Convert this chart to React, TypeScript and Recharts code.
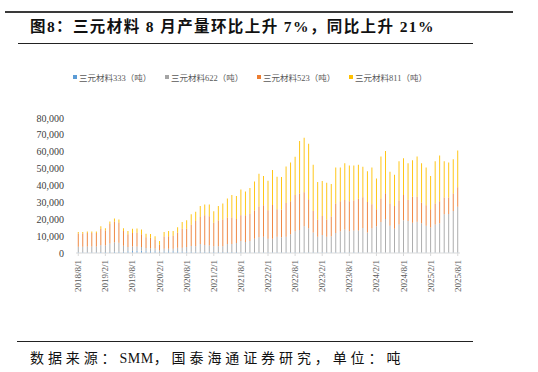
import React from 'react';
import { BarChart, Bar, XAxis, YAxis, Legend } from 'recharts';

const months = [
  '2018/8/1', '2018/9/1', '2018/10/1', '2018/11/1', '2018/12/1',
  '2019/1/1', '2019/2/1', '2019/3/1', '2019/4/1', '2019/5/1', '2019/6/1', '2019/7/1', '2019/8/1', '2019/9/1', '2019/10/1', '2019/11/1', '2019/12/1',
  '2020/1/1', '2020/2/1', '2020/3/1', '2020/4/1', '2020/5/1', '2020/6/1', '2020/7/1', '2020/8/1', '2020/9/1', '2020/10/1', '2020/11/1', '2020/12/1',
  '2021/1/1', '2021/2/1', '2021/3/1', '2021/4/1', '2021/5/1', '2021/6/1', '2021/7/1', '2021/8/1', '2021/9/1', '2021/10/1', '2021/11/1', '2021/12/1',
  '2022/1/1', '2022/2/1', '2022/3/1', '2022/4/1', '2022/5/1', '2022/6/1', '2022/7/1', '2022/8/1', '2022/9/1', '2022/10/1', '2022/11/1', '2022/12/1',
  '2023/1/1', '2023/2/1', '2023/3/1', '2023/4/1', '2023/5/1', '2023/6/1', '2023/7/1', '2023/8/1', '2023/9/1', '2023/10/1', '2023/11/1', '2023/12/1',
  '2024/1/1', '2024/2/1', '2024/3/1', '2024/4/1', '2024/5/1', '2024/6/1', '2024/7/1', '2024/8/1', '2024/9/1', '2024/10/1', '2024/11/1', '2024/12/1',
  '2025/1/1', '2025/2/1', '2025/3/1', '2025/4/1', '2025/5/1', '2025/6/1', '2025/7/1', '2025/8/1',
];

// 三元材料333（吨）
const ncm333 = [
  500, 500, 500, 500, 500,
  600, 600, 700, 800, 800, 800, 1000, 1200, 1300, 1300, 1100, 1000,
  1000, 700, 900, 1000, 1000, 1000, 900, 900, 800, 800, 800, 700,
  700, 600, 600, 600, 600, 600, 600, 500, 500, 500, 500, 500,
  500, 500, 400, 400, 400, 400, 400, 400, 400, 400, 400, 400,
  400, 400, 400, 400, 400, 400, 400, 400, 400, 400, 300, 300,
  300, 300, 300, 300, 300, 300, 300, 300, 300, 300, 300, 300,
  300, 300, 300, 300, 300, 300, 300, 300,
];

// 三元材料622（吨）
const ncm622 = [
  3200, 3200, 3300, 3300, 3300,
  4000, 3800, 5000, 5600, 5300, 3500, 2600, 2600, 2500, 2300, 1800, 1800,
  1700, 900, 1600, 1500, 1500, 2100, 2200, 2700, 3400, 3200, 4500, 4000,
  3700, 3400, 3400, 3400, 4700, 4800, 5400, 6600, 6000, 6600, 7900, 8900,
  9100, 8000, 8000, 9200, 8900, 9200, 10700, 12500, 13200, 15400, 14300, 11800,
  9200, 10300, 9200, 9600, 11400, 12500, 13600, 12500, 12900, 12900, 14500, 11900,
  14400, 15500, 18000, 19900, 15900, 14100, 16600, 19100, 18600, 17700, 18200, 17300,
  15900, 14800, 16600, 17300, 22600, 22800, 24600, 27100,
];

// 三元材料523（吨）
const ncm523 = [
  7900, 7900, 8000, 8000, 8000,
  9800, 9000, 11500, 12300, 12000, 8800, 7500, 8000, 8200, 7500, 6500, 6200,
  5300, 3300, 7300, 7500, 7700, 8900, 11200, 10700, 12500, 14900, 16000, 17600,
  17400, 14000, 15300, 15800, 15800, 15700, 14200, 15200, 15800, 16200, 16800, 18200,
  18700, 16900, 20100, 16400, 16500, 20000, 19600, 21400, 21600, 20200, 17100, 12700,
  10200, 11300, 10200, 11600, 17600, 17800, 17400, 17800, 17800, 18900, 18200, 18000,
  14200, 10200, 14000, 15200, 13200, 13400, 14200, 14900, 12700, 15400, 14900, 12200,
  12100, 10900, 12500, 13100, 10000, 9800, 10300, 11500,
];

// 三元材料811（吨）
const ncm811 = [
  800, 800, 900, 900, 900,
  1400, 1300, 1500, 1800, 1700, 1600, 2000, 2500, 2500, 2800, 2000, 2300,
  2000, 2200, 2700, 3100, 2900, 3300, 4000, 5100, 6200, 5600, 6500, 6400,
  6900, 6700, 8500, 9500, 11200, 13200, 13600, 15300, 14200, 15200, 17100, 19300,
  17300, 17400, 20700, 19200, 19300, 21600, 22900, 22700, 31100, 32300, 33000, 27400,
  22300, 20700, 21800, 19300, 21300, 20000, 21800, 21200, 20800, 20100, 18100, 18300,
  21800, 18100, 24900, 25100, 18700, 18500, 23200, 21800, 21600, 21600, 23800, 23400,
  22400, 19600, 24900, 27100, 21400, 20700, 20400, 21800,
];

const yTicks = [0, 10000, 20000, 30000, 40000, 50000, 60000, 70000, 80000];

const seriesNames = ['三元材料333（吨）', '三元材料622（吨）', '三元材料523（吨）', '三元材料811（吨）'];
const seriesColors = ['#5B9BD5', '#A5A5A5', '#ED7D31', '#FFC000'];

const data = months.map((m, i) => ({
  month: m,
  ncm333: ncm333[i],
  ncm622: ncm622[i],
  ncm523: ncm523[i],
  ncm811: ncm811[i],
}));

const serif = '"Liberation Serif", "Times New Roman", "Noto Sans CJK SC", serif';

const MonthTick = (props: any) => {
  const { x, y, payload } = props;
  return (
    <text
      x={x}
      y={y}
      transform={`rotate(-90, ${x}, ${y})`}
      textAnchor="end"
      dominantBaseline="central"
      fontSize={9}
      fill="#595959"
      fontFamily={serif}
    >
      {payload.value}
    </text>
  );
};

const LegendRow = () => (
  <div style={{ display: 'flex', fontFamily: serif, fontSize: 8.5, color: '#595959' }}>
    {seriesNames.map((name, i) => (
      <div key={name} style={{ display: 'flex', alignItems: 'center', width: 92 }}>
        <span style={{ width: 4, height: 4, background: seriesColors[i], marginRight: 2 }} />
        <span>{name}</span>
      </div>
    ))}
  </div>
);

export default function App() {
  return (
    <div
      style={{
        position: 'absolute',
        left: 0,
        top: 0,
        width: 538,
        height: 372,
        background: 'white',
        overflow: 'hidden',
      }}
    >
      <div style={{ position: 'absolute', left: 5, top: 11, width: 508, height: 2, background: '#3a3a3a' }} />
      <div
        style={{
          position: 'absolute',
          left: 30,
          top: 14,
          fontFamily: serif,
          fontWeight: 700,
          fontSize: 15.5,
          letterSpacing: 1.4,
          color: '#111',
          whiteSpace: 'nowrap',
        }}
      >
        图8：三元材料 8 月产量环比上升 7%，同比上升 21%
      </div>
      <div style={{ position: 'absolute', left: 18, top: 43, width: 455, height: 1, background: '#222' }} />

      <BarChart
        width={538}
        height={372}
        data={data}
        margin={{ top: 106, right: 78, bottom: 74, left: 0 }}
        barCategoryGap="40%"
        style={{ position: 'absolute', left: 0, top: 0 }}
      >
        <XAxis
          dataKey="month"
          interval={5}
          height={45}
          tick={<MonthTick />}
          tickSize={3}
          tickMargin={4}
          axisLine={{ stroke: '#D9D9D9' }}
          tickLine={{ stroke: '#D9D9D9' }}
        />
        <YAxis
          width={76}
          domain={[0, 80000]}
          ticks={yTicks}
          tickFormatter={(v: number) => v.toLocaleString('en-US')}
          axisLine={false}
          tickLine={false}
          tickSize={0}
          tickMargin={12}
          tick={{ fontSize: 10, fill: '#404040', fontFamily: serif }}
        />
        <Legend
          verticalAlign="top"
          content={<LegendRow />}
          wrapperStyle={{ top: 71, left: 73, width: 400 }}
        />
        <Bar dataKey="ncm333" name={seriesNames[0]} stackId="a" fill={seriesColors[0]} isAnimationActive={false} />
        <Bar dataKey="ncm622" name={seriesNames[1]} stackId="a" fill={seriesColors[1]} isAnimationActive={false} />
        <Bar dataKey="ncm523" name={seriesNames[2]} stackId="a" fill={seriesColors[2]} isAnimationActive={false} />
        <Bar dataKey="ncm811" name={seriesNames[3]} stackId="a" fill={seriesColors[3]} isAnimationActive={false} />
      </BarChart>

      <div style={{ position: 'absolute', left: 17, top: 341, width: 456, height: 1, background: '#222' }} />
      <div
        style={{
          position: 'absolute',
          left: 30,
          top: 347,
          fontFamily: serif,
          fontSize: 14,
          letterSpacing: 3.9,
          color: '#111',
          whiteSpace: 'nowrap',
        }}
      >
        数据来源：<span style={{ letterSpacing: 0.5 }}>SMM</span>，国泰海通证券研究，单位：吨
      </div>
    </div>
  );
}
